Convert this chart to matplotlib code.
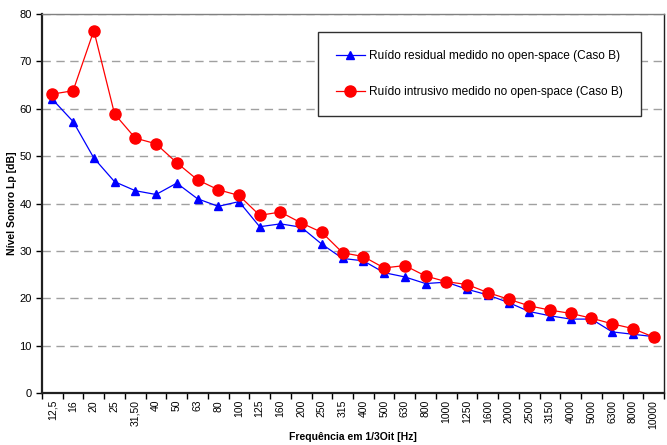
import numpy as np
import matplotlib
matplotlib.use('Agg')
import matplotlib.pyplot as plt

plt.rcParams['font.family'] = ['Liberation Sans', 'DejaVu Sans']

freqs = ['12,5', '16', '20', '25', '31,50', '40', '50', '63', '80', '100',
         '125', '160', '200', '250', '315', '400', '500', '630', '800', '1000',
         '1250', '1600', '2000', '2500', '3150', '4000', '5000', '6300', '8000', '10000']

# ruido residual (azul)
residual = [62.0, 57.3, 49.6, 44.6, 42.7, 41.9, 44.3, 41.0, 39.4, 40.4,
            35.1, 35.7, 35.0, 31.4, 28.4, 27.9, 25.4, 24.5, 23.1, 23.4,
            21.9, 20.7, 19.1, 17.2, 16.3, 15.6, 15.6, 12.9, 12.4, 11.9]

# ruido intrusivo (vermelho)
intrusivo = [63.1, 63.8, 76.5, 58.9, 53.8, 52.6, 48.6, 45.0, 42.9, 41.7,
             37.5, 38.2, 35.9, 33.9, 29.6, 28.8, 26.4, 26.9, 24.7, 23.5,
             22.9, 21.2, 19.8, 18.4, 17.5, 16.8, 15.8, 14.6, 13.6, 11.8]

fig = plt.figure(figsize=(6.67, 4.45), dpi=100)
ax = fig.add_axes([42 / 667, 1 - 393 / 445, 622 / 667, 379 / 445])

x = np.arange(len(freqs))
ax.plot(x, residual, color='#0000ff', lw=0.9, marker='^', ms=5.5,
        label='Ruído residual medido no open-space (Caso B)')
ax.plot(x, intrusivo, color='#ff0000', lw=0.9, marker='o', ms=8,
        label='Ruído intrusivo medido no open-space (Caso B)')

ax.set_xlim(-0.5, len(freqs) - 0.5)
ax.set_ylim(0, 80)
ax.set_yticks(np.arange(0, 81, 10))
ax.yaxis.grid(True, color='#a0a0a0', ls=(0, (6, 4)), lw=1)
ax.set_axisbelow(True)

# ticks entre categorias, rotulos no centro
ax.set_xticks(np.arange(-0.5, len(freqs), 1.0))
ax.set_xticklabels([])
ax.set_xticks(x, minor=True)
ax.set_xticklabels(freqs, minor=True, rotation=90, fontsize=7.5, va='top')
ax.tick_params(axis='x', which='minor', length=0, pad=5)
ax.tick_params(axis='x', which='major', length=4, width=1, direction='out')
ax.tick_params(axis='y', length=4, width=1, labelsize=8, direction='out')

for s in ['left', 'bottom']:
    ax.spines[s].set_linewidth(1.6)
    ax.spines[s].set_color('#202020')
ax.spines['top'].set_color('#808080')
ax.spines['top'].set_linewidth(1)
ax.spines['right'].set_color('#202020')
ax.spines['right'].set_linewidth(1)

ax.set_ylabel('Nível Sonoro Lp [dB]', fontsize=7.5, fontweight='bold')
ax.set_xlabel('Frequência em 1/3Oit [Hz]', fontsize=7.5, fontweight='bold')
ax.xaxis.set_label_coords(0.5, -0.102)
ax.yaxis.set_label_coords(-0.04, 0.5)

leg = ax.legend(loc='upper left', bbox_to_anchor=(318 / 667, 1 - 32 / 445),
                bbox_transform=fig.transFigure, fontsize=8.6, handlelength=2.4,
                handletextpad=0.4, labelspacing=2.0, borderpad=1.5,
                fancybox=False, framealpha=1,
                edgecolor='#303030', borderaxespad=0)
leg.get_frame().set_linewidth(1)

fig.savefig('out.png', dpi=100)
